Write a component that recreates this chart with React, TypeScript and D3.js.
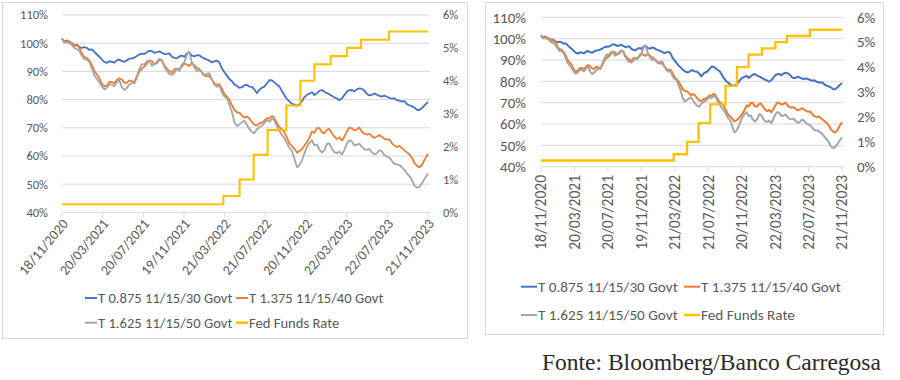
import React from 'react';
import * as d3 from 'd3';

// ---------- DATA ----------
const startDate = '2020-11-18';
// observation days after 18/11/2020
const obsDay = [0,7,15,22,30,37,45,52,60,67,75,82,90,97,105,112,120,127,135,142,150,157,165,172,180,187,195,202,210,217,225,232,240,247,255,262,270,277,285,292,300,307,315,322,330,337,345,352,360,367,375,382,390,397,405,412,420,427,435,442,450,457,465,472,480,487,495,502,510,517,525,532,540,547,555,562,570,577,585,592,600,607,615,622,630,637,645,652,660,667,675,682,690,697,705,712,720,727,735,742,750,757,765,772,780,787,795,802,810,817,825,832,840,847,855,862,870,877,885,892,900,907,915,922,930,937,945,952,960,967,975,982,990,997,1005,1012,1020,1027,1035,1042,1050,1057,1065,1072,1080,1087,1098];
const t30 = [101.5,100.6,101,100.4,100,99.2,99.5,98.7,98.3,98.6,98.3,97.6,97.8,96.9,96,95.2,94.2,93.4,93,93.6,93.4,93.1,94,94.2,93.6,93.4,94,94.5,94.6,94.9,95.5,96,96.3,96.2,96.8,97.3,97.2,96.6,96.8,97.1,96.6,96.1,96.2,96.4,95.2,94.8,94.6,95.3,95.6,95.2,96.4,96.6,95.6,95.3,95.8,95.7,95,94.6,94.2,93.8,93.2,93.6,93.8,93.2,91,89.8,88.5,87.3,86.5,85.4,84.8,84.2,84.4,85.1,85.2,84.6,84.5,83.6,82.3,83.5,84.2,84.6,85.8,86.9,86.8,86.1,85.3,84.7,83,81.5,80.2,79.4,78.5,78.2,77.8,78.4,79.5,80.8,81.7,82.1,82.6,81.6,82.3,83.1,83.4,82.8,82.3,81.9,81.3,80.8,80.4,79.8,80.5,81.6,82.9,83.3,83.4,82.9,83.7,84,83.8,83.2,82,81.5,81.7,82.2,81.7,81.3,81.1,81.4,81,80.6,80.3,80.5,79.8,79.6,79.3,79.5,78.4,78,77.6,77.2,76.4,76.3,77,77.9,79.2];
const t40 = [101.5,100.4,100.7,100.6,99.8,99.1,99.2,98.4,96.3,95.1,94.8,93.9,92.2,90.1,88.8,87.6,85.6,84.7,85,86.3,86.2,85.8,87,87.6,87,86,85.9,86.8,86.5,85.8,88,89.9,91,91.7,92.8,93.9,93.6,92.6,93,94.1,93.8,92.2,91,90.1,89.6,90.8,91,90.9,91.8,92.8,92.4,91.9,93,92.1,91.2,90.8,89.5,88.5,88.3,88.4,87,85.8,85.2,85.5,83.8,82.1,81,79.9,78,76.3,75.5,75.4,74.4,73.6,74,73.4,72,71.1,70.8,71.6,71.8,72.5,73.4,73.3,74.2,73.4,71.6,70.3,69.5,68.4,66.5,64.5,63.5,62.6,61.2,61.7,62.4,63.6,65,66.4,68.7,68.2,69.9,69.9,68.4,68.1,69.3,69.6,68,66.9,66,66.6,65.5,66.8,68.7,70.1,69.8,69.1,69.4,70.1,68.6,67.9,67.6,67.9,67,66.4,66.9,67.4,66.8,66.1,65.8,65.9,64.5,63.7,63.2,63.6,62.8,62.1,61.2,60.6,59.3,57.6,56.5,56,56.8,58.6,60.8];
const t50 = [101.8,100.2,100.3,100.1,99.3,98.3,98,97.2,95.5,94.3,94.2,93.4,91,88.6,87.3,86.2,84.5,83.6,84.3,85.4,85.3,84.7,86.3,86.8,84.3,83.4,84.2,85.3,85.8,86.4,88.5,90.9,92.6,92.4,93.6,93.8,92,92.5,93.6,94.5,94,91.6,90,89.1,88.8,89.5,91,90.2,92.4,93.3,96,97,93,91.4,90,90.5,89.8,88.7,89.2,89.3,87,85.4,84.5,84.9,82.5,81.1,80.5,78.2,75.5,72.1,70.6,71.2,72,72.5,71,69.6,68.5,68.1,69.5,70.2,70.8,71.6,72.8,72.1,73.2,72.7,70.5,68.9,67.5,66.5,64.5,62.9,61.8,59.2,56,56.7,58.5,60.8,63.3,64.6,65.5,63.8,64,62.3,61.2,62,64.3,64.5,62.5,61.4,61,61.6,60.5,62.2,64.5,65.6,65.1,63.8,64,64.4,63.2,62.4,62.2,62.5,61.3,60.6,61,62.1,61.6,60.3,59.8,59.5,58.2,57.2,57,56.8,56,55.2,53.8,52.9,51.5,49.5,48.8,49,50.3,51.8,53.8];
const fedDates = ['2020-11-18','2022-03-17','2022-05-05','2022-06-16','2022-07-28','2022-09-22','2022-11-03','2022-12-15','2023-02-02','2023-03-23','2023-05-04','2023-07-27','2023-11-21'];
const fedRate = [0.25,0.5,1.0,1.75,2.5,3.25,4.0,4.5,4.75,5.0,5.25,5.5,5.5];
const tickDates = ['2020-11-18','2021-03-20','2021-07-20','2021-11-19','2022-03-21','2022-07-21','2022-11-20','2023-03-22','2023-07-22','2023-11-21'];
const tickLabels = ['18/11/2020','20/03/2021','20/07/2021','19/11/2021','21/03/2022','21/07/2022','20/11/2022','22/03/2023','22/07/2023','21/11/2023'];
const leftTicks = [40,50,60,70,80,90,100,110];
const rightTicks = [0,1,2,3,4,5,6];
const seriesNames = ['T 0.875 11/15/30 Govt','T 1.375 11/15/40 Govt','T 1.625 11/15/50 Govt','Fed Funds Rate'];
const seriesColors = ['#4472C4','#ED7D31','#A5A5A5','#FFC000'];
const caption = 'Fonte: Bloomberg/Banco Carregosa';

const parse = d3.timeParse('%Y-%m-%d');
const FONT = 'Carlito, Calibri, Lato, sans-serif';

type Cfg = {
  box: [number, number, number, number];
  x0: number; x1: number; yTop: number; yBot: number; gridEnd: number;
  axisFont: number; leftLabelX: number; rightLabelX: number;
  xLabelFont: number; xRot: number; xLabelDX: number; xLabelY: number;
  legendFont: number; legendRows: [number, number]; legendCols: [number, number]; legendLineLen: number;
  lw: number;
};

function Chart({ c }: { c: Cfg }) {
  const x = d3.scaleTime().domain([parse(tickDates[0])!, parse(tickDates[tickDates.length - 1])!]).range([c.x0, c.x1]);
  const y = d3.scaleLinear().domain([40, 110]).range([c.yBot, c.yTop]);
  const y2 = d3.scaleLinear().domain([0, 6]).range([c.yBot, c.yTop]);
  const start = parse(startDate)!;
  const dates = obsDay.map((d) => d3.timeDay.offset(start, d));
  const line = d3.line<number>()
    .defined((v, i) => v != null && dates[i] != null)
    .x((_, i) => x(dates[i]))
    .y((v) => y(v));
  const fedLine = d3.line<number>().x((_, i) => x(parse(fedDates[i])!)).y((v) => y2(v)).curve(d3.curveStepAfter);
  const series = [t30, t40, t50];
  const [bx, by, bw, bh] = c.box;
  return (
    <g>
      <rect x={bx + 0.5} y={by + 0.5} width={bw} height={bh} fill="#fff" stroke="#d9d9d9" strokeWidth={1} />
      {leftTicks.map((t) => (
        <line key={'g' + t} x1={c.x0} x2={c.gridEnd} y1={y(t)} y2={y(t)} stroke="#d9d9d9" strokeWidth={1} />
      ))}
      {tickDates.map((d, i) => (
        <line key={'tk' + i} x1={x(parse(d)!)} x2={x(parse(d)!)} y1={c.yBot} y2={c.yBot + 5} stroke="#d9d9d9" strokeWidth={1} />
      ))}
      {leftTicks.map((t) => (
        <text key={'l' + t} x={c.leftLabelX} y={y(t)} dy="0.35em" textAnchor="end" fontSize={c.axisFont} fontFamily={FONT} fill="#595959">{t}%</text>
      ))}
      {rightTicks.map((t) => (
        <text key={'r' + t} x={c.rightLabelX} y={y2(t)} dy="0.35em" textAnchor="start" fontSize={c.axisFont} fontFamily={FONT} fill="#595959">{t}%</text>
      ))}
      {tickDates.map((d, i) => {
        const tx = x(parse(d)!) + c.xLabelDX;
        return (
          <text key={'xl' + i} transform={`translate(${tx},${c.xLabelY}) rotate(${c.xRot})`} dy="0.35em" textAnchor="end" fontSize={c.xLabelFont} fontFamily={FONT} fill="#595959">{tickLabels[i]}</text>
        );
      })}
      {series.map((s, i) => (
        <path key={'s' + i} d={line(s)!} fill="none" stroke={seriesColors[i]} strokeWidth={c.lw} strokeLinejoin="round" />
      ))}
      <path d={fedLine(fedRate)!} fill="none" stroke={seriesColors[3]} strokeWidth={c.lw + 0.3} />
      {seriesNames.map((n, i) => {
        const row = Math.floor(i / 2);
        const col = i % 2;
        const ly = c.legendRows[row];
        const lx = c.legendCols[col];
        return (
          <g key={'lg' + i}>
            <line x1={lx} x2={lx + c.legendLineLen} y1={ly} y2={ly} stroke={seriesColors[i]} strokeWidth={i === 3 ? 2.5 : 2} />
            <text x={lx + c.legendLineLen + 1} y={ly} dy="0.35em" fontSize={c.legendFont} fontFamily={FONT} fill="#595959">{n}</text>
          </g>
        );
      })}
    </g>
  );
}

const leftCfg: Cfg = {
  box: [2, 2, 465, 336], x0: 62, x1: 428, yTop: 15, yBot: 212.4, gridEnd: 430,
  axisFont: 12.5, leftLabelX: 48, rightLabelX: 443,
  xLabelFont: 14, xRot: -50, xLabelDX: 3, xLabelY: 221,
  legendFont: 14.6, legendRows: [298, 322.7], legendCols: [85, 236], legendLineLen: 12, lw: 1.8,
};
const rightCfg: Cfg = {
  box: [485, 2, 398, 332], x0: 541, x1: 842, yTop: 17.3, yBot: 166.7, gridEnd: 844,
  axisFont: 15, leftLabelX: 526, rightLabelX: 857,
  xLabelFont: 15.5, xRot: -90, xLabelDX: 0, xLabelY: 175,
  legendFont: 15.2, legendRows: [286.7, 315], legendCols: [521, 684], legendLineLen: 16, lw: 2,
};

export default function App() {
  return (
    <svg width={900} height={380} style={{ position: 'absolute', left: 0, top: 0, background: '#fff' }}>
      <rect x={0} y={0} width={900} height={380} fill="#fff" />
      <Chart c={leftCfg} />
      <Chart c={rightCfg} />
      <text x={542} y={370} fontSize={23.5} fontFamily="'Liberation Serif', serif" fill="#2a2a2a">{caption}</text>
    </svg>
  );
}
